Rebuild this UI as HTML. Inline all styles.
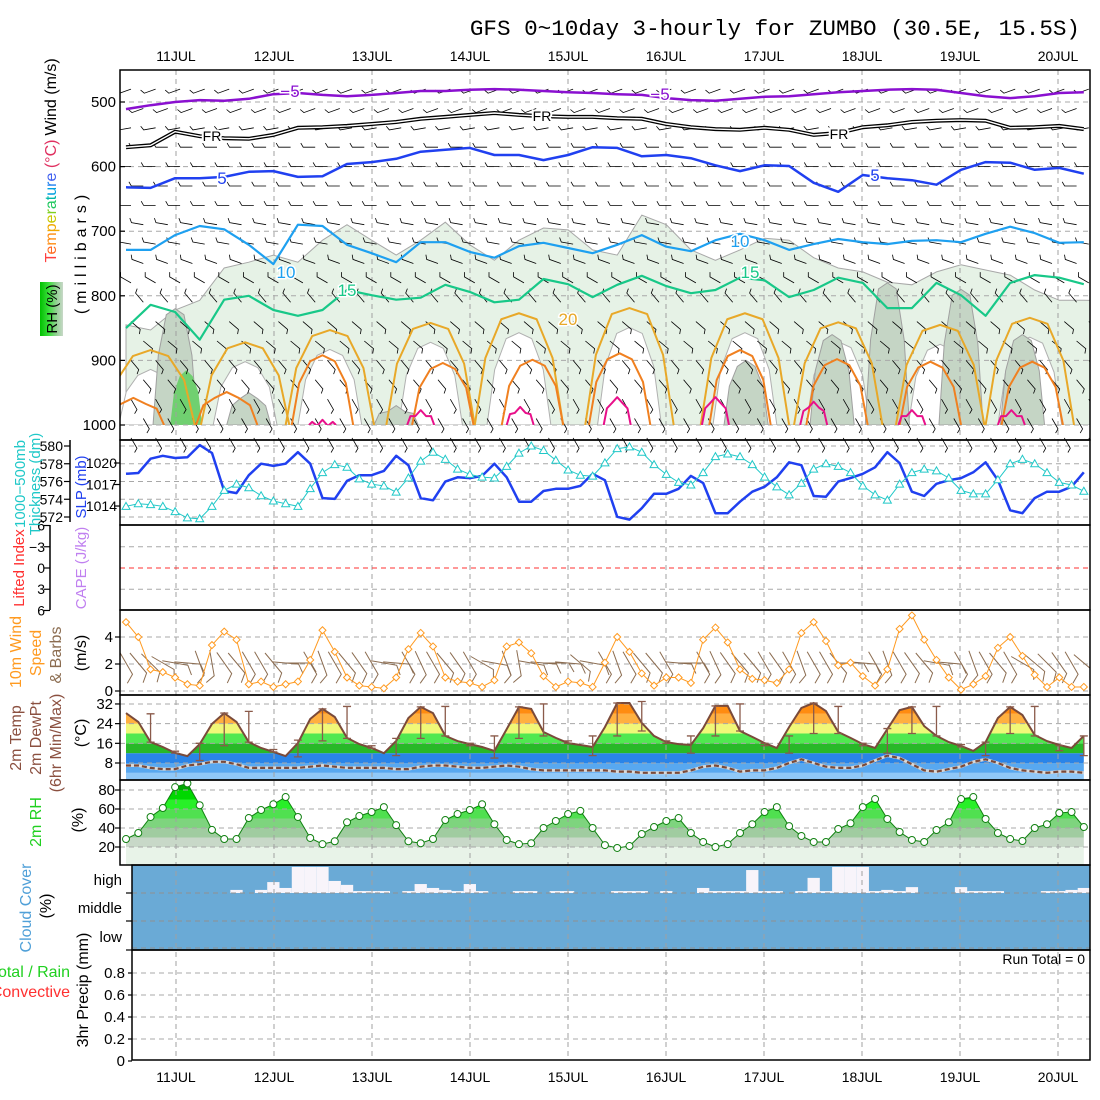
<!DOCTYPE html>
<html><head><meta charset="utf-8">
<style>
body{margin:0;background:#fff}
svg{display:block}
text{font-family:"Liberation Sans",sans-serif}
.mono{font-family:"Liberation Mono",monospace}
</style></head>
<body>
<svg id="chart" xmlns="http://www.w3.org/2000/svg" width="1100" height="1100" viewBox="0 0 1100 1100">
<rect x="0" y="0" width="1100" height="1100" fill="#fff"/>
<text class="mono" x="1080" y="35" text-anchor="end" font-size="22.6" fill="#000">GFS 0~10day 3-hourly for ZUMBO (30.5E, 15.5S)</text>
<defs>
<clipPath id="topclip"><rect x="120" y="70" width="970" height="355"/></clipPath>
<clipPath id="panelclip"><rect x="120" y="70" width="970" height="990"/></clipPath>
<linearGradient id="rhgrad" x1="0" y1="0" x2="1" y2="0"><stop offset="0" stop-color="#00c000"/><stop offset="0.4" stop-color="#40e040"/><stop offset="0.7" stop-color="#90d090"/><stop offset="1" stop-color="#c8d8c8"/></linearGradient>
</defs>
<g id="gFill"></g>
<g id="gGrid"></g>
<g id="gMarks"></g>
<g id="gStatic" font-size="15" fill="#000">
  <rect x="120" y="70" width="970" height="370" fill="none" stroke="#000" stroke-width="1.5"/>
  <rect x="120" y="440" width="970" height="85" fill="none" stroke="#000" stroke-width="1.5"/>
  <rect x="120" y="525" width="970" height="85" fill="none" stroke="#000" stroke-width="1.5"/>
  <rect x="120" y="610" width="970" height="85" fill="none" stroke="#000" stroke-width="1.5"/>
  <rect x="120" y="695" width="970" height="85" fill="none" stroke="#000" stroke-width="1.5"/>
  <rect x="120" y="780" width="970" height="85" fill="none" stroke="#000" stroke-width="1.5"/>
  <rect x="132" y="865" width="958" height="85" fill="none" stroke="#000" stroke-width="1.5"/>
  <rect x="132" y="950" width="958" height="110" fill="none" stroke="#000" stroke-width="1.5"/>
  <line x1="70" y1="440" x2="70" y2="522" stroke="#000" stroke-width="1.5"/>
  <line x1="50" y1="525" x2="50" y2="610" stroke="#000" stroke-width="1.5"/>

  <text transform="translate(56,97) rotate(-90)" text-anchor="middle" font-size="16">Wind (m/s)</text>
  <text transform="translate(56,201) rotate(-90)" text-anchor="middle" font-size="16"><tspan fill="#ff4040">T</tspan><tspan fill="#ff6a20">e</tspan><tspan fill="#ff8c10">m</tspan><tspan fill="#f0a800">p</tspan><tspan fill="#c8c800">e</tspan><tspan fill="#80d020">r</tspan><tspan fill="#20c860">a</tspan><tspan fill="#00b8a8">t</tspan><tspan fill="#00a0e0">u</tspan><tspan fill="#2080f0">r</tspan><tspan fill="#4060f0">e</tspan><tspan fill="#e03060"> (°C)</tspan></text>
  <rect x="40" y="282" width="23" height="54" fill="url(#rhgrad)"/>
  <text transform="translate(57,309) rotate(-90)" text-anchor="middle" font-size="15">RH (%)</text>
  <text transform="translate(86,252) rotate(-90)" text-anchor="middle" font-size="16" letter-spacing="5">(millibars)</text>

  <text transform="translate(25,484) rotate(-90)" text-anchor="middle" font-size="15" fill="#20c8c8">1000−500mb</text>
  <text transform="translate(40,484) rotate(-90)" text-anchor="middle" font-size="15" fill="#20c8c8">Thickness (dm)</text>
  <text transform="translate(86,487) rotate(-90)" text-anchor="middle" font-size="15" fill="#2040f0">SLP (mb)</text>
  <text transform="translate(24,568) rotate(-90)" text-anchor="middle" font-size="15" fill="#ff3030">Lifted Index</text>
  <text transform="translate(86,568) rotate(-90)" text-anchor="middle" font-size="15" fill="#c080f0">CAPE (J/kg)</text>

  <text transform="translate(21,652) rotate(-90)" text-anchor="middle" font-size="16" fill="#ff9a20">10m Wind</text>
  <text transform="translate(41,653) rotate(-90)" text-anchor="middle" font-size="16" fill="#ff9a20">Speed</text>
  <text transform="translate(61,655) rotate(-90)" text-anchor="middle" font-size="16" fill="#8b6c50">&amp; Barbs</text>
  <text transform="translate(86,653) rotate(-90)" text-anchor="middle" font-size="16">(m/s)</text>

  <text transform="translate(21,738) rotate(-90)" text-anchor="middle" font-size="16" fill="#8b5040">2m Temp</text>
  <text transform="translate(41,738) rotate(-90)" text-anchor="middle" font-size="16" fill="#8b5040">2m DewPt</text>
  <text transform="translate(61,743) rotate(-90)" text-anchor="middle" font-size="16" fill="#8b5040">(6hr Min/Max)</text>
  <text transform="translate(86,733) rotate(-90)" text-anchor="middle" font-size="16">(°C)</text>

  <text transform="translate(41,822) rotate(-90)" text-anchor="middle" font-size="16" fill="#20d020">2m RH</text>
  <text transform="translate(83,820) rotate(-90)" text-anchor="middle" font-size="16">(%)</text>

  <text transform="translate(31,908) rotate(-90)" text-anchor="middle" font-size="16" fill="#50a0d8">Cloud Cover</text>
  <text transform="translate(51,906) rotate(-90)" text-anchor="middle" font-size="16">(%)</text>

  <text x="70" y="977" text-anchor="end" font-size="16" fill="#20d020">Total / Rain</text>
  <text x="70" y="997" text-anchor="end" font-size="16" fill="#ff3030">Convective</text>
  <text transform="translate(88,990) rotate(-90)" text-anchor="middle" font-size="16">3hr Precip (mm)</text>
  <text x="1085" y="964" text-anchor="end" font-size="14">Run Total = 0</text>

  <text x="122" y="885" text-anchor="end" font-size="15">high</text>
  <text x="122" y="913" text-anchor="end" font-size="15">middle</text>
  <text x="122" y="942" text-anchor="end" font-size="15">low</text>
</g>
</svg>
<script>
// ---------------- DATA ----------------
const days = ["11JUL","12JUL","13JUL","14JUL","15JUL","16JUL","17JUL","18JUL","19JUL","20JUL"];
const slp = [1018.5,1018.6,1020.6,1021.0,1020.7,1020.8,1022.5,1021.4,1016.1,1015.8,
1018.3,1019.9,1019.6,1019.9,1021.5,1019.9,1015.1,1015.0,1017.5,1018.3,
1018.3,1018.9,1021.0,1019.7,1015.1,1014.8,1017.4,1018.0,1017.9,1018.2,
1019.9,1018.0,1014.6,1014.6,1016.1,1016.4,1016.4,1016.8,1018.5,1017.6,
1012.5,1012.1,1013.7,1015.7,1015.7,1016.4,1018.2,1017.2,1013.0,1013.0,
1014.6,1016.0,1016.7,1018.0,1020.1,1019.7,1015.4,1015.3,1017.4,1017.9,
1018.5,1019.4,1021.5,1020.0,1016.0,1015.4,1017.1,1017.6,1017.9,1018.7,
1020.1,1017.6,1013.4,1013.0,1015.1,1016.0,1016.0,1016.7,1018.7];
const thick = [573.2,573.5,573.4,573.2,572.6,571.9,571.8,573.2,575.0,575.7,
575.3,574.4,573.8,573.5,573.2,575.2,577.0,577.9,577.6,576.3,
575.7,575.5,574.8,576.4,578.3,579.3,578.5,577.4,576.8,576.5,
576.4,577.7,579.2,580.0,579.5,578.4,577.3,576.7,576.6,578.1,
579.7,579.9,579.3,577.9,576.8,575.9,575.6,577.0,578.8,579.1,
578.8,577.9,576.5,575.4,574.5,575.8,577.4,578.0,577.7,577.0,
575.5,574.5,573.9,575.7,577.0,577.4,577.2,576.4,575.0,574.6,
574.6,576.2,578.0,578.5,578.0,577.0,575.9,575.6,574.9];
const wspd = [5.1,4.0,1.6,1.4,1.0,0.5,0.4,3.4,4.4,3.8,0.5,0.7,0.3,0.5,0.7,2.3,4.5,2.9,1.0,0.4,0.3,0.2,1.0,
3.1,4.3,3.3,1.0,0.7,0.6,0.3,0.8,3.3,3.6,2.8,1.1,0.3,0.7,0.6,0.3,2.1,4.0,2.9,1.3,0.4,1.0,1.0,0.6,3.8,4.7,3.6,1.6,
0.9,0.8,0.6,1.6,4.3,5.1,3.7,1.9,2.1,1.1,0.4,1.6,4.6,5.6,3.8,2.3,1.0,0.1,0.5,1.1,3.2,4.0,2.6,1.2,0.3,1.0,0.3,0.3];
const wdir = [150,140,135,120,100,95,160,170,145,140,150,150,140,95,90,150,160,150,140,145,
150,100,95,150,155,150,140,145,150,120,100,160,170,100,95,90,95,130,100,150,
160,150,140,140,150,95,90,150,155,145,140,140,150,145,150,160,150,150,140,90,
95,150,160,150,145,140,100,95,150,160,150,140,150,120,130,135,145,150,130];
const temp = [28.3,24.7,16.5,14.5,12.1,10.8,15.7,23.9,28.3,24.7,16.5,14.1,12.5,10.8,16.1,25.9,30,26.7,18.2,15.7,14.1,12,17,
26.3,30.8,28.3,19,16.9,15.7,14.5,12.9,21.8,30.8,30,20.6,18.2,16.1,15.3,14.5,22.6,32.4,32.4,24.3,19,16.5,15.7,15.3,22.2,31.2,31.2,21,
18.6,16.1,14.1,22.6,30.4,32.4,29.1,20.6,18.2,15.7,14.1,21.8,29.5,30.8,23,19,16.5,14.9,12.9,16.5,26.3,30.8,27.5,19.4,16.9,15.3,14.1,19];
const dewpt = [7,7,6,5.5,5.5,7,7.5,8.5,8.5,7.5,6,6,6,6,6,6.5,7,6.5,6,6,6,6,5.5,
5.5,6.5,7,7,6.5,6,6,6.5,7,6.5,5.5,5,5,5,5,5,5,4.5,4.5,4,4,4,4,5,6.5,7,6,4.5,
5,5,6,8,9.5,8,6.5,6,6,7,9,11,10,7.5,5,4.5,5.5,6.5,8.5,9.5,8,6,5,4.5,4,4.5,4.5,4];
const barIdx = [2,4,6,8,10,12,14,16,18,20,22,24,26,28,30,32,34,36,38,40,42,44,46,48,50,52,54,56,58,60,62,64,66,68,70,72,74,76,78];
const barLo = [16.5,12,9,15,16.5,12.5,10.5,17,18,14,11,18,19,15,10,18,19,16,11,19,21,16,12,19,21,15,12,20,20,15,12,20,19,14.5,11,20,19,13,11];
const barHi = [28,12.8,16,28.3,29,13.5,17.3,30,31,15,18,30.8,31,16,19,30.8,32,17,19,32.4,33,17,19,31.2,32,16,19,32.4,31,16,22,30.8,31,15.5,16.5,30.8,31,15,19];
const rh = [28.4,34.7,51.6,61,83,87,64,38,28.4,28.4,50.5,59,65,72.6,51.6,29.5,23,26,46,52.6,56.8,62,43,
26,24,28.4,48.4,54.7,59,65,44,27.4,23,24,40,47.4,54.7,58,40,22,19,21,33.7,41,47.4,50.5,34.7,25.3,20,23,34.7,
44,56.8,62,42,31.6,25.3,25.3,39,45,62,70.5,49.5,35.8,27.4,25.3,37.9,46,70.5,72.6,49.5,34.7,28.4,26.3,40,44,55.8,56.8,41];
const highCloud = [0,0,0,0,0,0,0,0,0,11,0,11,39,18,93,93,93,43,29,7,7,7,0,7,32,18,11,7,32,7,
0,0,7,7,0,7,7,0,0,0,7,7,7,0,7,0,0,18,7,7,7,82,7,7,0,7,54,7,93,93,
93,7,11,7,21,0,0,0,21,7,7,7,0,0,0,7,7,11,18];
const precip = [];
const isoM5 = [511,505,500,497,498,495,488,486,489,491,489,486,483,483,481,480,481,483,485,486,488,489,494,497,498,495,492,491,488,485,483,481,480,481,486,491,494,491,486,485];
const isoFR = [570,567,546,553,556,557,551,540,539,537,534,531,526,523,520,517,520,522,523,523,525,526,534,539,542,543,540,543,551,548,539,536,531,529,528,529,540,539,537,542];
const iso5 = [632,633,618,618,616,608,607,616,615,596,593,588,577,574,571,582,582,590,582,570,571,584,582,587,598,607,598,599,625,639,613,618,621,628,605,593,594,605,602,611];
const iso10 = [729,729,706,692,697,721,751,690,692,721,734,748,717,717,732,741,723,718,726,734,721,706,724,731,714,704,714,729,720,712,717,720,715,714,717,704,693,703,718,717];
const iso15 = [850,814,825,868,806,800,822,831,822,791,799,806,803,783,794,810,806,774,782,802,783,769,785,796,791,772,776,802,791,772,780,819,819,780,799,831,780,768,772,782];
const rhTop = [845,853,822,807,757,748,737,748,714,690,714,737,714,686,721,745,714,695,698,729,737,675,690,729,745,729,711,714,741,757,763,779,783,763,752,760,768,791,807,807];
const hump20Idx = [2,9.7,16.6,24.8,32,41,50.4,58,66.3,73.6];
const hump20Top = [884,872,853,842,827,819,827,841,845,834];
const hump25Idx = [0.6,8.2,16,25.8,33.1,40.2,50,57.9,65.5,73.8];
const hump25Top = [958,949,892,904,899,889,884,898,902,902];
const hump30Idx = [16,24,32.1,40,48,56,64,72.1];
const hump30Top = [992,977,972,957,957,964,977,977];
const darkIdx = [4,10,22,50.5,57.5,62,68,73];
const darkTop = [820,950,970,900,860,780,790,860];
const levels = [480,510,540,570,600,630,660,690,720,750,780,810,840,870,900,930,960,990,1020];
const levelDir = [250,250,260,270,270,270,270,280,280,290,300,320,130,130,140,140,150,150,150];

// ---------------- SCALES ----------------
const NS = "http://www.w3.org/2000/svg";
const N = temp.length;
function X(i){ return 126 + 12.28*i; }
function dayX(k){ return 176 + 98*k; }
function yP(p){ return 102 + (p-500)*0.646; }
function ySlp(v){ return 463 - (v-1020)*7.17; }
function yTh(v){ return 446 - (v-580)*8.875; }
function yLI(v){ return 568 + v*7.08; }
function yW(v){ return 691 - v*13.5; }
function yT(v){ return 763 - (v-8)*2.46; }
function yRH(v){ return 790 - (v-80)*0.95; }
function yPr(v){ return 1061 - v*110; }

const gFill = document.getElementById('gFill');
const gGrid = document.getElementById('gGrid');
const gMarks = document.getElementById('gMarks');
function mk(tag, attrs, parent){
  const e = document.createElementNS(NS, tag);
  for (const k in attrs) e.setAttribute(k, attrs[k]);
  parent.appendChild(e);
  return e;
}
function linePath(xs, ys){
  let d = "";
  for (let i=0;i<xs.length;i++) d += (i?"L":"M") + xs[i].toFixed(1) + "," + ys[i].toFixed(1);
  return d;
}
function coarseX(arr){ return arr.map((_,k)=>X(2*k)); }
function humpPath(c, topP, hw){
  const xl = X(c-hw), xr = X(c+hw), xc = X(c), w = xr-xl;
  const yt = yP(topP), yb = 425, ym = yt + (yb-yt)*0.4;
  return "M"+xl+","+yb+" L"+(xl+0.12*w)+","+ym+" L"+(xl+0.3*w)+","+(yt+6)+" L"+xc+","+yt+
         " L"+(xr-0.3*w)+","+(yt+6)+" L"+(xr-0.12*w)+","+ym+" L"+xr+","+yb;
}
const allIdx = temp.map((_,i)=>i);
const allX = allIdx.map(X);

// ---------------- TOP PANEL FILLS ----------------
const topG = mk('g', {'clip-path':'url(#topclip)'}, gFill);
{
  const xs = coarseX(rhTop), ys = rhTop.map(yP);
  const e = mk('path', {d: "M"+xs[0]+",425 " + linePath(xs, ys).replace("M","L") + " L1090,"+ys[ys.length-1]+" L1090,425 Z", fill:'#e6f2e6', stroke:'#a8a8a8', 'stroke-width':1}, topG);
  
  
}
hump20Idx.forEach((c,k)=>{
  const e = mk('path', {d: humpPath(c, hump20Top[k]+30, 2.6)+" Z", fill:'#ffffff', stroke:'#b0b0b0', 'stroke-width':1}, topG);
  
  
});
darkIdx.forEach((c,k)=>{
  const e = mk('path', {d: humpPath(c, darkTop[k], 1.8)+" Z", fill:'#c5d5c5', stroke:'#a0a0a0', 'stroke-width':1}, topG);
  
  
});
{
  const e = mk('path', {d: humpPath(4.9, 915, 1.3)+" Z", fill:'#70d070'}, topG);
  
  
}

// ---------------- TEMP FILL ----------------
{
  const cp = mk('clipPath', {id:'tclip'}, gFill);
  mk('path', {d: "M"+X(0)+",780 " + linePath(allX, temp.map(yT)).replace("M","L") + " L"+X(N-1)+",780 Z"}, cp);
  const bands = [[-10,4,'#90c8f8'],[4,8,'#58a8f0'],[8,12,'#2a84e8'],[12,16,'#28b828'],[16,20,'#50e850'],[20,24,'#f0f878'],[24,28,'#ffb040'],[28,32,'#ff8c10'],[32,45,'#f06000']];
  const g = mk('g', {'clip-path':'url(#tclip)'}, gFill);
  bands.forEach(b=>{
    const e = mk('rect', {x:120, y:yT(b[1]), width:970, height:yT(b[0])-yT(b[1]), fill:b[2]}, g);
    
    
  });
}
// ---------------- RH FILL ----------------
{
  const cp = mk('clipPath', {id:'rclip'}, gFill);
  mk('path', {d: "M"+X(0)+",865 " + linePath(allX, rh.map(yRH)).replace("M","L") + " L"+X(N-1)+",865 Z"}, cp);
  const bands = [[0,20,'#e8f3e8'],[20,30,'#c8d8c8'],[30,40,'#a0cca0'],[40,50,'#7ed47e'],[50,60,'#50e050'],[60,70,'#28f028'],[70,80,'#00d800'],[80,100,'#00a800']];
  const g = mk('g', {'clip-path':'url(#rclip)'}, gFill);
  bands.forEach(b=>{
    const e = mk('rect', {x:120, y:yRH(b[1]), width:970, height:yRH(b[0])-yRH(b[1]), fill:b[2]}, g);
    
    
  });
}
// ---------------- CLOUD ----------------
{
  const e = mk('rect', {x:132, y:865, width:958, height:85, fill:'#6aaad6'}, gFill);
  
  
  const cg = mk('g', {'clip-path':'url(#panelclip)'}, gFill);
  highCloud.forEach((v,i)=>{
    if (v<=0) return;
    const h = v/100*28;
    const r = mk('rect', {x:X(i)-6.14, y:893-h, width:Math.min(12.28, 1090-(X(i)-6.14)), height:h, fill:'#f8f4fa'}, cg);
    
    
  });
}

// ---------------- GRID ----------------
function hgrid(y, x1, color, name){
  const e = mk('line', {x1:x1, x2:1090, y1:y, y2:y, stroke:color||'#a8a8a8', 'stroke-dasharray':'5,4', 'stroke-width':1}, gGrid);
  
  
}
days.forEach((d,k)=>{
  const e = mk('line', {x1:dayX(k), x2:dayX(k), y1:70, y2:1060, stroke:'#a0a0a0', 'stroke-dasharray':'5,4', 'stroke-width':1}, gGrid);
  
  
});
[500,600,700,800,900,1000].forEach(p=>hgrid(yP(p),120));
[572,574,576,578,580].forEach(v=>hgrid(yTh(v),120));
[-3,3].forEach(v=>hgrid(yLI(v),120));
hgrid(yLI(0),120,'#ff3030','lifted-index-zero-line');
[0,2,4].forEach(v=>hgrid(yW(v),120));
[8,16,24,32].forEach(v=>hgrid(yT(v),120));
[20,40,60,80].forEach(v=>hgrid(yRH(v),120));
[893,921,948].forEach(y=>hgrid(y,132,'#909090'));
[0.2,0.4,0.6,0.8].forEach(v=>hgrid(yPr(v),132));

// ---------------- TICK LABELS ----------------
function label(x,y,txt,anchor,name,size,color){
  const t = mk('text', {x:x, y:y, 'text-anchor':anchor||'end', 'font-size':size||15, fill:color||'#000'}, gMarks);
  t.textContent = txt;
  
  
}
function tick(x1,x2,y){
  const e = mk('line', {x1:x1,x2:x2,y1:y,y2:y,stroke:'#000','stroke-width':1.2}, gMarks);
  
  
}
days.forEach((d,k)=>{
  label(dayX(k), 61, d, 'middle', 'top-date-label', 14);
  label(dayX(k), 1082, d, 'middle', 'bottom-date-label', 14);
});
[500,600,700,800,900,1000].forEach(p=>{ label(116, yP(p)+5, String(p), 'end', 'pressure-tick-label'); tick(120,125,yP(p)); });
[572,574,576,578,580].forEach(v=>{ label(63, yTh(v)+5, String(v), 'end', 'thickness-tick-label', 14); tick(64,70,yTh(v)); });
[1014,1017,1020].forEach(v=>{ label(117, ySlp(v)+5, String(v), 'end', 'slp-tick-label', 14); tick(114,120,ySlp(v)); });
[[-6,'6'],[-3,'−3'],[0,'0'],[3,'3'],[6,'6']].forEach(a=>{ label(45, yLI(a[0])+5, a[1], 'end', 'lifted-index-tick-label', 14); tick(44,50,yLI(a[0])); });
[0,2,4].forEach(v=>{ label(113, yW(v)+5, String(v), 'end', 'wind-tick-label'); tick(115,120,yW(v)); });
[8,16,24,32].forEach(v=>{ label(113, yT(v)+5, String(v), 'end', 'temp-tick-label'); tick(115,120,yT(v)); });
[20,40,60,80].forEach(v=>{ label(115, yRH(v)+5, String(v), 'end', 'rh-tick-label'); tick(115,120,yRH(v)); });
[893,921,950].forEach(y=>tick(126,132,y));
[[0,'0'],[0.2,'0.2'],[0.4,'0.4'],[0.6,'0.6'],[0.8,'0.8']].forEach(a=>{ label(125, yPr(a[0])+5, a[1], 'end', 'precip-tick-label'); tick(128,132,yPr(a[0])); });

// ---------------- BARBS ----------------
function barb(x, y, dir, len, color, parent, name, w){
  const r = dir*Math.PI/180, dx = Math.sin(r), dy = -Math.cos(r);
  const x2 = x + dx*len, y2 = y + dy*len;
  const r2 = r + Math.PI/3, bx = x2 + Math.sin(r2)*len*0.4, by = y2 - Math.cos(r2)*len*0.4;
  const e = mk('path', {d:"M"+x.toFixed(1)+","+y.toFixed(1)+"L"+x2.toFixed(1)+","+y2.toFixed(1)+"L"+bx.toFixed(1)+","+by.toFixed(1), fill:'none', stroke:color, 'stroke-width':w||1}, parent);
  
  
}
const barbG = mk('g', {'clip-path':'url(#panelclip)'}, gMarks);
levels.forEach((p,li)=>{
  for (let i=(li%2); i<N; i+=2){
    barb(X(i)+5, yP(p), levelDir[li], 12, '#000', barbG, 'upper-wind-barb', 0.8);
  }
});
wdir.forEach((d,i)=>{
  const r = d*Math.PI/180;
  barb(X(i)-Math.sin(r)*13, 663+Math.cos(r)*13, d, 26, '#8b6c50', barbG, 'surface-wind-barb', 1);
});

// ---------------- ISOLINES ----------------
const topG2 = mk('g', {'clip-path':'url(#topclip)'}, gMarks);
function iso(arr, color, w, name, dbl){
  const xs = coarseX(arr), ys = arr.map(yP);
  if (dbl){
    const b = mk('path', {d:linePath(xs,ys), fill:'none', stroke:'#000', 'stroke-width':4}, topG2);
    
    
    const e = mk('path', {d:linePath(xs,ys), fill:'none', stroke:'#fff', 'stroke-width':1.4}, topG2);
    
    
    return;
  }
  const e = mk('path', {d:linePath(xs,ys), fill:'none', stroke:color, 'stroke-width':w, 'stroke-linejoin':'round'}, topG2);
  
  
}
iso(isoM5, '#8a10d0', 2.5, 'isotherm-minus5');
iso(isoFR, '#000', 2, 'freezing-level', true);
iso(iso5, '#2040f0', 2.5, 'isotherm-5');
iso(iso10, '#1ea0f0', 2.2, 'isotherm-10');
iso(iso15, '#18c888', 2.2, 'isotherm-15');
hump20Idx.forEach((c,k)=>{
  const e = mk('path', {d:humpPath(c, hump20Top[k], 3.6), fill:'none', stroke:'#e8a828', 'stroke-width':2, 'stroke-linejoin':'round'}, topG2);
  
  
});
hump25Idx.forEach((c,k)=>{
  const e = mk('path', {d:humpPath(c, hump25Top[k], 2.5), fill:'none', stroke:'#f08020', 'stroke-width':2, 'stroke-linejoin':'round'}, topG2);
  
  
});
hump30Idx.forEach((c,k)=>{
  const e = mk('path', {d:humpPath(c, hump30Top[k], 1.1), fill:'none', stroke:'#e8108a', 'stroke-width':2, 'stroke-linejoin':'round'}, topG2);
  
  
});
[[290,97,'−5','#8a10d0'],[660,100,'−5','#8a10d0'],[222,184,'5','#2040f0'],[875,181,'5','#2040f0'],[286,278,'10','#1ea0f0'],[740,247,'10','#1ea0f0'],[347,296,'15','#18c888'],[750,278,'15','#18c888'],[568,325,'20','#e8a828']].forEach(a=>{
  const t = mk('text', {x:a[0], y:a[1], 'text-anchor':'middle', 'font-size':17, fill:a[3], stroke:'#fff', 'stroke-width':3, 'paint-order':'stroke'}, gMarks);
  t.textContent = a[2];
  
  
});
[[212,141],[542,121],[839,139]].forEach(a=>{
  const t = mk('text', {x:a[0], y:a[1], 'text-anchor':'middle', 'font-size':14, fill:'#000', stroke:'#fff', 'stroke-width':4, 'paint-order':'stroke'}, gMarks);
  t.textContent = 'FR';
  
  
});

// ---------------- SLP / THICKNESS ----------------
{
  const e = mk('path', {d:linePath(allX, slp.map(ySlp)), fill:'none', stroke:'#2040f0', 'stroke-width':2.5, 'stroke-linejoin':'round'}, gMarks);
  
  
  const t = mk('path', {d:linePath(allX, thick.map(yTh)), fill:'none', stroke:'#20c8c8', 'stroke-width':1}, gMarks);
  
  
  thick.forEach((v,i)=>{
    const x = X(i), y = yTh(v);
    const m = mk('path', {d:"M"+(x-4)+","+(y+3)+"L"+x+","+(y-4)+"L"+(x+4)+","+(y+3)+"Z", fill:'#fff', stroke:'#20c8c8', 'stroke-width':1}, gMarks);
    
    
  });
}
// ---------------- WIND SPEED ----------------
{
  const e = mk('path', {d:linePath(allX, wspd.map(yW)), fill:'none', stroke:'#ff9a20', 'stroke-width':1}, gMarks);
  
  
  wspd.forEach((v,i)=>{
    const x = X(i), y = yW(v);
    const m = mk('path', {d:"M"+(x-3.5)+","+y+"L"+x+","+(y-3.5)+"L"+(x+3.5)+","+y+"L"+x+","+(y+3.5)+"Z", fill:'#fff', stroke:'#ff9a20', 'stroke-width':1}, gMarks);
    
    
  });
}
// ---------------- TEMPERATURE ----------------
{
  const d1 = mk('path', {d:linePath(allX, dewpt.map(yT)), fill:'none', stroke:'#d8d8d8', 'stroke-width':3}, gMarks);
  
  
  const d2 = mk('path', {d:linePath(allX, dewpt.map(yT)), fill:'none', stroke:'#7a4a3a', 'stroke-width':2.2, 'stroke-dasharray':'5,3'}, gMarks);
  
  
  const e = mk('path', {d:linePath(allX, temp.map(yT)), fill:'none', stroke:'#7a4a3a', 'stroke-width':2}, gMarks);
  
  
  barIdx.forEach((ix,k)=>{
    const x = X(ix), y1 = yT(barHi[k]), y2 = yT(barLo[k]);
    const b = mk('path', {d:"M"+x+","+y1+"L"+x+","+y2+"M"+(x-4)+","+y1+"L"+(x+4)+","+y1+"M"+(x-4)+","+y2+"L"+(x+4)+","+y2, stroke:'#8a5a4a', 'stroke-width':1.3, fill:'none'}, gMarks);
    
    
  });
}
// ---------------- RH ----------------
{
  const e = mk('path', {d:linePath(allX, rh.map(yRH)), fill:'none', stroke:'#108010', 'stroke-width':1}, gMarks);
  
  
  rh.forEach((v,i)=>{
    const c = mk('circle', {cx:X(i), cy:yRH(v), r:3.5, fill:'#fff', stroke:'#108010', 'stroke-width':1}, gMarks);
    
    
  });
}
</script>
</body></html>
